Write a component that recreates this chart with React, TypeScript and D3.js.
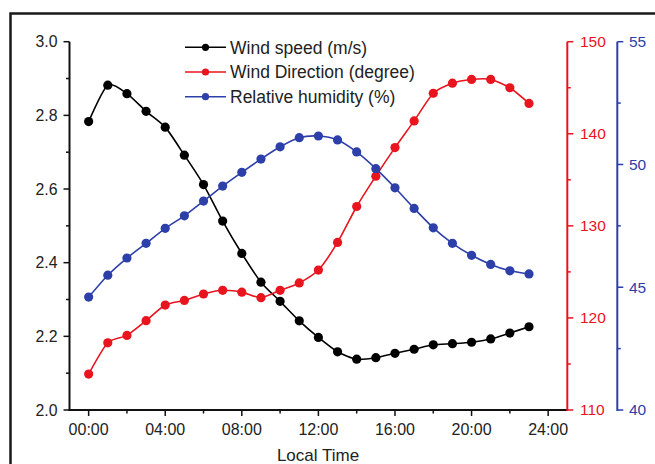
import React from "react";
import * as d3 from "d3";

const hours = d3.range(0, 24);
const windSpeed = [2.783, 2.882, 2.859, 2.811, 2.768, 2.692, 2.612, 2.513, 2.425, 2.347, 2.295, 2.242, 2.197, 2.158, 2.138, 2.142, 2.154, 2.165, 2.177, 2.18, 2.184, 2.193, 2.209, 2.226];
const windDir = [113.9, 117.3, 118.1, 119.7, 121.4, 121.9, 122.6, 123.0, 122.8, 122.2, 123.0, 123.8, 125.2, 128.2, 132.1, 135.4, 138.5, 141.4, 144.4, 145.5, 145.9, 145.9, 145.0, 143.3];
const humidity = [44.6, 45.49, 46.19, 46.79, 47.4, 47.91, 48.51, 49.12, 49.68, 50.22, 50.72, 51.09, 51.16, 51.0, 50.51, 49.83, 49.05, 48.21, 47.42, 46.79, 46.3, 45.93, 45.67, 45.54];

const xTickVals = [0, 4, 8, 12, 16, 20, 24];
const xTickLabels = ["00:00", "04:00", "08:00", "12:00", "16:00", "20:00", "24:00"];
const leftTicks = [2.0, 2.2, 2.4, 2.6, 2.8, 3.0];
const redTicks = [110, 120, 130, 140, 150];
const blueTicks = [40, 45, 50, 55];

const legendItems = [
  { label: "Wind speed (m/s)", color: "#000000" },
  { label: "Wind Direction (degree)", color: "#e8141e" },
  { label: "Relative humidity (%)", color: "#2d3fa8" },
];

const RED = "#e8141e";
const BLUE = "#2d3fa8";
const FONT = "Liberation Sans, Arial, sans-serif";

export default function App() {
  const W = 655, H = 464;
  const x = d3.scaleLinear().domain([-1, 25]).range([69.5, 567.3]);
  const yL = d3.scaleLinear().domain([2.0, 3.0]).range([410, 41.7]);
  const yR = d3.scaleLinear().domain([110, 150]).range([410, 41.7]);
  const yB = d3.scaleLinear().domain([40, 55]).range([410, 41.7]);

  const series = [
    { vals: windSpeed, y: yL, color: "#000000" },
    { vals: windDir, y: yR, color: RED },
    { vals: humidity, y: yB, color: BLUE },
  ];

  const xAxisY = 410;
  const redX = 567.3;
  const blueX = 617.3;
  const leftX = 69.5;

  return (
    <svg width={W} height={H} style={{ position: "absolute", left: 0, top: 0, background: "#fff" }}>
      <rect x={0} y={0} width={W} height={H} fill="#fff" />
      {/* outer frame */}
      <path d={`M10.5,${H + 5} L10.5,13.5 L${W + 5},13.5`} fill="none" stroke="#1a1a1a" strokeWidth={2.5} />

      {/* series */}
      {series.map((s, si) => {
        const line = d3.line<number>().x((_, i) => x(hours[i])).y((v) => s.y(v)).curve(d3.curveCardinal.tension(0.3));
        return (
          <g key={si}>
            <path d={line(s.vals) || ""} fill="none" stroke={s.color} strokeWidth={1.6} />
            {s.vals.map((v, i) => (
              <circle key={i} cx={x(hours[i])} cy={s.y(v)} r={4.6} fill={s.color} />
            ))}
          </g>
        );
      })}

      {/* left axis */}
      <g fontFamily={FONT} fontSize={15.8} fill="#222">
        <line x1={leftX} x2={leftX} y1={41.7} y2={xAxisY + 1} stroke="#111" strokeWidth={2} />
        {d3.range(2.0, 3.001, 0.1).map((v, i) => (
          <line key={i} x1={leftX} x2={leftX - (i % 2 === 0 ? 6 : 3.5)} y1={yL(v)} y2={yL(v)} stroke="#111" strokeWidth={1.5} />
        ))}
        {leftTicks.map((v) => (
          <text key={v} x={57.5} y={yL(v)} dy="0.35em" textAnchor="end">{v.toFixed(1)}</text>
        ))}
      </g>

      {/* x axis */}
      <g fontFamily={FONT} fontSize={16} fill="#222">
        <line x1={leftX - 1} x2={redX} y1={xAxisY} y2={xAxisY} stroke="#111" strokeWidth={2} />
        {d3.range(0, 25, 2).map((h) => (
          <line key={h} x1={x(h)} x2={x(h)} y1={xAxisY} y2={xAxisY + (h % 4 === 0 ? 6 : 3.5)} stroke="#111" strokeWidth={1.5} />
        ))}
        {xTickVals.map((h, i) => (
          <text key={h} x={x(h)} y={435} textAnchor="middle">{xTickLabels[i]}</text>
        ))}
        <text x={318} y={460.5} textAnchor="middle" fontSize={17}>Local Time</text>
      </g>

      {/* red axis */}
      <g fontFamily={FONT} fontSize={15.5} fill={RED}>
        <line x1={redX} x2={redX} y1={41.7} y2={xAxisY + 1} stroke={RED} strokeWidth={2} />
        {d3.range(110, 150.01, 5).map((v, i) => (
          <line key={v} x1={redX} x2={redX + (i % 2 === 0 ? 6 : 3.5)} y1={yR(v)} y2={yR(v)} stroke={RED} strokeWidth={1.5} />
        ))}
        {redTicks.map((v) => (
          <text key={v} x={580} y={yR(v)} dy="0.35em">{v}</text>
        ))}
      </g>

      {/* blue axis */}
      <g fontFamily={FONT} fontSize={15.5} fill={BLUE}>
        <line x1={blueX} x2={blueX} y1={41.7} y2={xAxisY + 1} stroke={BLUE} strokeWidth={2} />
        {d3.range(40, 55.01, 2.5).map((v, i) => (
          <line key={v} x1={blueX} x2={blueX + (i % 2 === 0 ? 6 : 3.5)} y1={yB(v)} y2={yB(v)} stroke={BLUE} strokeWidth={1.5} />
        ))}
        {blueTicks.map((v) => (
          <text key={v} x={629} y={yB(v)} dy="0.35em">{v}</text>
        ))}
      </g>

      {/* legend */}
      <g fontFamily={FONT} fontSize={17.5} fill="#222">
        {legendItems.map((it, i) => {
          const cy = 47.3 + i * 24.7;
          return (
            <g key={i}>
              <line x1={185} x2={226} y1={cy} y2={cy} stroke={it.color} strokeWidth={1.6} />
              <circle cx={205.5} cy={cy} r={3.6} fill={it.color} />
              <text x={230} y={cy} dy="0.36em">{it.label}</text>
            </g>
          );
        })}
      </g>
    </svg>
  );
}
